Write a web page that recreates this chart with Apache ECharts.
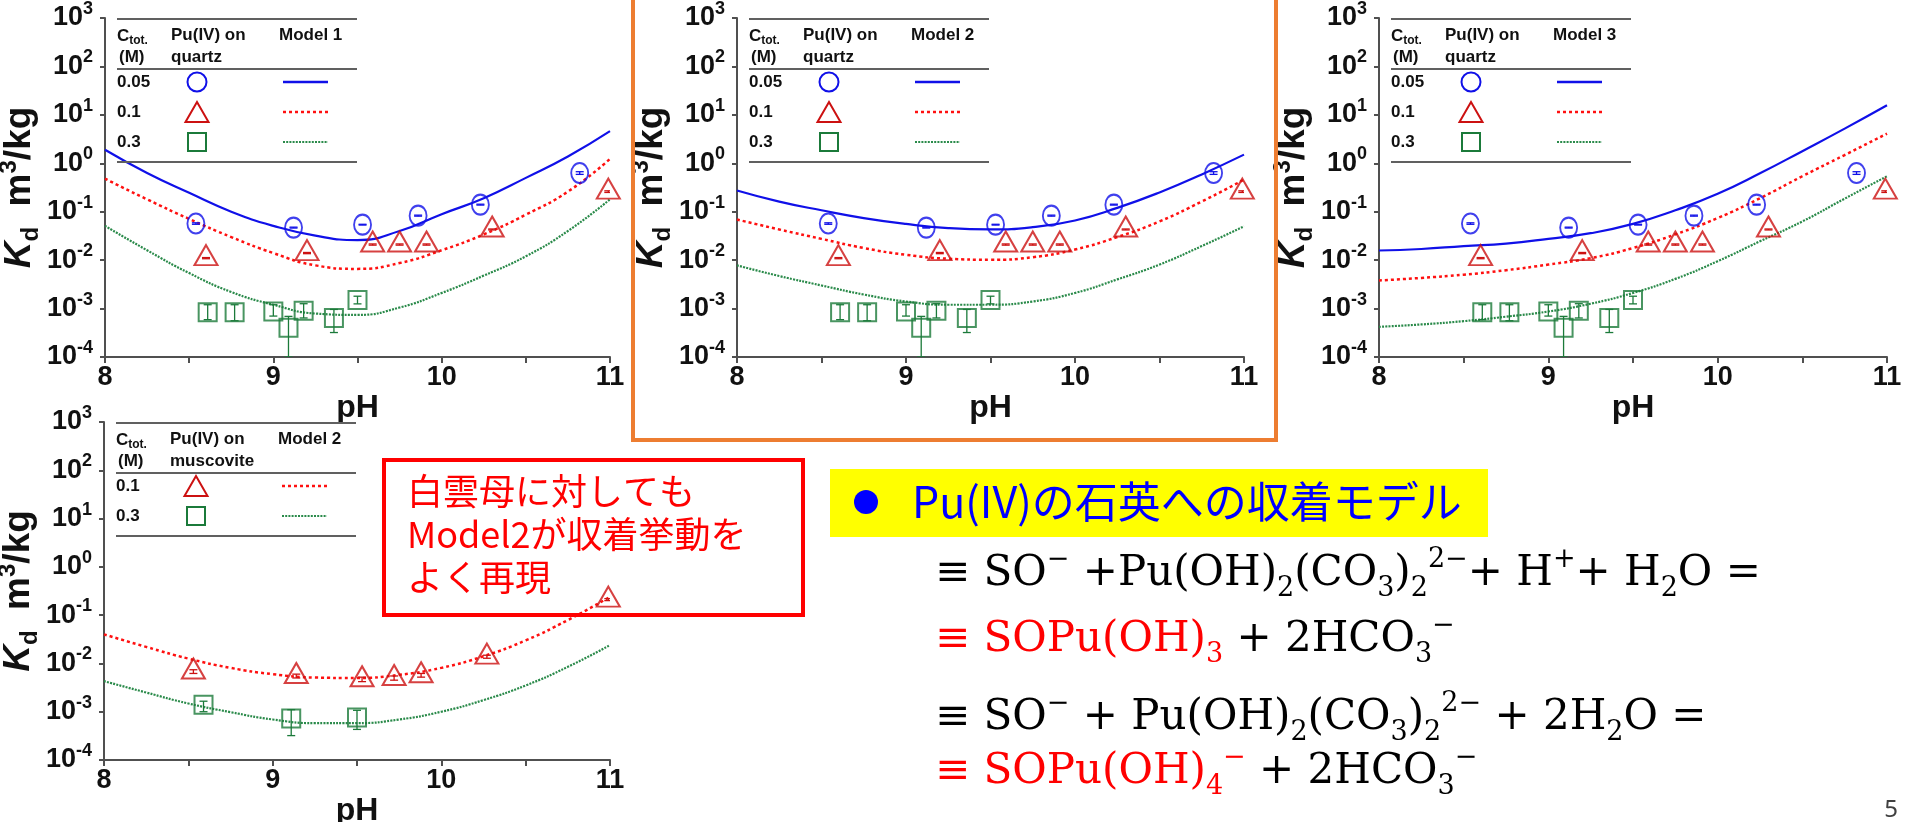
<!DOCTYPE html>
<html>
<head>
<meta charset="utf-8">
<script src="https://cdn.jsdelivr.net/npm/echarts@6.0.0/dist/echarts.min.js"></script>
<style>
  html, body { margin: 0; padding: 0; background: #fff; }
  #main { width: 1911px; height: 822px; }
</style>
</head>
<body>
<div id="main"></div>
<script>
// ---- data ----
var phModel = [8, 8.25, 8.5, 8.75, 9, 9.25, 9.5, 9.75, 10, 10.25, 10.5, 10.75, 11];
// model curves (Kd, m3/kg)
var m1Blue  = [1.9, 0.63, 0.245, 0.10, 0.051, 0.032, 0.026, 0.040, 0.089, 0.19, 0.50, 1.38, 4.6];
var m1Red   = [0.48, 0.18, 0.071, 0.030, 0.014, 0.0078, 0.0066, 0.0087, 0.016, 0.034, 0.087, 0.26, 1.23];
var m1Green = [0.051, 0.016, 0.0054, 0.0022, 0.0012, 7.9e-4, 7.4e-4, 1.05e-3, 2.1e-3, 4.8e-3, 0.012, 0.040, 0.18];
var m2Blue  = [0.275, 0.162, 0.107, 0.074, 0.056, 0.046, 0.043, 0.048, 0.066, 0.12, 0.25, 0.59, 1.51];
var m2Red   = [0.069, 0.043, 0.0275, 0.0178, 0.0129, 0.0107, 0.0102, 0.0115, 0.0166, 0.030, 0.063, 0.162, 0.46];
var m2Green = [0.0078, 0.0047, 0.0030, 0.00195, 0.0014, 0.0012, 0.0012, 0.0014, 0.0021, 0.0040, 0.0081, 0.0195, 0.050];
var m3Blue  = [0.0158, 0.017, 0.0195, 0.022, 0.0275, 0.036, 0.056, 0.107, 0.234, 0.62, 1.78, 5.2, 15.8];
var m3Red   = [0.0038, 0.0043, 0.0050, 0.0062, 0.0081, 0.011, 0.0178, 0.034, 0.074, 0.19, 0.54, 1.48, 4.1];
var m3Green = [4.2e-4, 4.7e-4, 5.5e-4, 6.8e-4, 8.7e-4, 1.26e-3, 2.1e-3, 4.1e-3, 9.5e-3, 0.0245, 0.063, 0.186, 0.54];
var muRed   = [0.040, 0.022, 0.0126, 0.0081, 0.0060, 0.0051, 0.0050, 0.0058, 0.0081, 0.0141, 0.030, 0.079, 0.24];
var muGreen = [0.0043, 0.0025, 0.00148, 9.8e-4, 6.9e-4, 5.8e-4, 5.8e-4, 6.9e-4, 1.0e-3, 1.74e-3, 3.5e-3, 8.5e-3, 0.024];

// Pu(IV) on quartz (same in the three upper plots)
var phQz05 = [8.54, 9.12, 9.53, 9.86, 10.23, 10.82];
var kdQz05 = [0.057, 0.047, 0.054, 0.083, 0.14, 0.63];
var loQz05 = [0.055, 0.046, 0.053, 0.081, 0.137, 0.59];
var hiQz05 = [0.059, 0.048, 0.055, 0.085, 0.143, 0.67];
var phQz10 = [8.60, 9.20, 9.59, 9.75, 9.91, 10.30, 10.99];
var kdQz10 = [0.011, 0.014, 0.021, 0.021, 0.021, 0.043, 0.26];
var loQz10 = [0.0107, 0.0136, 0.0204, 0.0204, 0.0204, 0.042, 0.25];
var hiQz10 = [0.0113, 0.0144, 0.0216, 0.0216, 0.0216, 0.044, 0.27];
var phQz30 = [8.61, 8.77, 9.00, 9.09, 9.18, 9.36, 9.50];
var kdQz30 = [8.4e-4, 8.4e-4, 8.7e-4, 4.0e-4, 9.0e-4, 6.4e-4, 1.5e-3];
var loQz30 = [5.9e-4, 5.6e-4, 7.0e-4, 1.0e-4, 6.4e-4, 3.2e-4, 1.25e-3];
var hiQz30 = [1.2e-3, 1.2e-3, 1.2e-3, 6.9e-4, 1.26e-3, 9.6e-4, 1.8e-3];

// Pu(IV) on muscovite
var phMu10 = [8.53, 9.14, 9.53, 9.72, 9.88, 10.27, 10.99];
var kdMu10 = [0.0068, 0.0055, 0.0047, 0.0050, 0.0057, 0.0138, 0.21];
var loMu10 = [0.0062, 0.0050, 0.0042, 0.0045, 0.0052, 0.0128, 0.20];
var hiMu10 = [0.0074, 0.0060, 0.0052, 0.0055, 0.0062, 0.0148, 0.22];
var phMu30 = [8.59, 9.11, 9.50];
var kdMu30 = [1.4e-3, 7.2e-4, 7.6e-4];
var loMu30 = [1.0e-3, 3.2e-4, 4.3e-4];
var hiMu30 = [1.65e-3, 1.1e-3, 1.07e-3];

var concQz = ['0.05', '0.1', '0.3'];
var concMu = ['0.1', '0.3'];

// ---- styles ----
var FONT = 'Liberation Sans';
var BLUE = '#1010E8', RED = '#FF1010', RED_SYM = '#CC1111', GREEN = '#1B7A3A', GREEN_L = '#2A8A4A';
var AXIS = '#505050';

var grids = [
  { left: 105, top: 18, width: 505, height: 339, outerBoundsMode: 'none' },
  { left: 737, top: 18, width: 507, height: 339, outerBoundsMode: 'none' },
  { left: 1379, top: 18, width: 508, height: 339, outerBoundsMode: 'none' },
  { left: 104, top: 422, width: 506, height: 338, outerBoundsMode: 'none' }
];

function pairs(xs, ys) { return xs.map(function (x, i) { return [x, ys[i]]; }); }
function triples(xs, lo, hi) { return xs.map(function (x, i) { return [x, lo[i], hi[i]]; }); }

function xAx(i) {
  return {
    gridIndex: i, type: 'value', min: 8, max: 11, interval: 0.5,
    name: 'pH', nameLocation: 'middle', nameGap: 17,
    nameTextStyle: { fontFamily: FONT, fontSize: 32, fontWeight: 'bold', color: '#111' },
    axisLine: { lineStyle: { color: AXIS, width: 2 } },
    axisTick: { length: 6, lineStyle: { color: AXIS, width: 2 } },
    axisLabel: {
      formatter: function (v) { return v % 1 === 0 ? String(v) : ''; },
      fontFamily: FONT, fontSize: 27, fontWeight: 'bold', color: '#111', margin: 7
    },
    splitLine: { show: false }
  };
}

function yAx(i) {
  return {
    gridIndex: i, type: 'log', logBase: 10, min: 1e-4, max: 1e3, splitNumber: 7,
    name: '{k|K}{d|d}{n|  m}{s|3}{n|/kg}', nameLocation: 'middle', nameGap: 56,
    nameTextStyle: {
      color: '#111',
      rich: {
        k: { fontFamily: FONT, fontSize: 37, fontWeight: 'bold', fontStyle: 'italic', lineHeight: 46 },
        d: { fontFamily: FONT, fontSize: 24, fontWeight: 'bold', lineHeight: 24, verticalAlign: 'bottom' },
        n: { fontFamily: FONT, fontSize: 37, fontWeight: 'bold', lineHeight: 46 },
        s: { fontFamily: FONT, fontSize: 24, fontWeight: 'bold', lineHeight: 28, verticalAlign: 'top' }
      }
    },
    axisLine: { show: true, lineStyle: { color: AXIS, width: 2 } },
    axisTick: { show: true, length: 5, lineStyle: { color: AXIS, width: 2 } },
    axisLabel: {
      margin: 12, color: '#111',
      formatter: function (v) { return '{b|10}{s|' + Math.round(Math.log10(v)) + '}'; },
      rich: {
        b: { fontFamily: FONT, fontSize: 27, fontWeight: 'bold', lineHeight: 36 },
        s: { fontFamily: FONT, fontSize: 18, fontWeight: 'bold', lineHeight: 20, verticalAlign: 'top' }
      }
    },
    splitLine: { show: false },
    minorTick: { show: false }
  };
}

function lineSeries(i, ys, color, dash, w) {
  return {
    type: 'line', xAxisIndex: i, yAxisIndex: i, data: pairs(phModel, ys),
    smooth: true, showSymbol: false, symbol: 'none', silent: true, z: 2,
    lineStyle: { color: color, width: w, type: dash }
  };
}

function markSeries(i, xs, ys, sym, size, color, offset) {
  return {
    type: 'scatter', xAxisIndex: i, yAxisIndex: i, data: pairs(xs, ys),
    symbol: sym, symbolSize: size, symbolOffset: offset || [0, 0], silent: true, z: 4,
    itemStyle: { color: 'rgba(255,255,255,0)', borderColor: color, borderWidth: 2 }
  };
}

function errSeries(i, xs, lo, hi, color, cap) {
  return {
    type: 'custom', xAxisIndex: i, yAxisIndex: i, data: triples(xs, lo, hi),
    encode: { x: 0, y: [1, 2] }, silent: true, z: 3, clip: true,
    renderItem: function (params, api) {
      var t = api.coord([api.value(0), api.value(2)]);
      var b = api.coord([api.value(0), api.value(1)]);
      var st = { stroke: color, lineWidth: 1.3 };
      return {
        type: 'group', children: [
          { type: 'line', shape: { x1: t[0], y1: t[1], x2: b[0], y2: b[1] }, style: st },
          { type: 'line', shape: { x1: t[0] - cap, y1: t[1], x2: t[0] + cap, y2: t[1] }, style: st },
          { type: 'line', shape: { x1: b[0] - cap, y1: b[1], x2: b[0] + cap, y2: b[1] }, style: st }
        ]
      };
    }
  };
}

var CIRCLE = ['circle', [17, 20]];
var TRI = ['triangle', [23, 20]];
var SQ = ['rect', [18, 18]];

var series = [];
[[m1Blue, m1Red, m1Green], [m2Blue, m2Red, m2Green], [m3Blue, m3Red, m3Green]].forEach(function (m, i) {
  series.push(lineSeries(i, m[0], BLUE, 'solid', 2.2));
  series.push(lineSeries(i, m[1], RED, [3, 3], 2.5));
  series.push(lineSeries(i, m[2], GREEN_L, [2, 1.2], 2.2));
  series.push(errSeries(i, phQz05, loQz05, hiQz05, BLUE, 4));
  series.push(errSeries(i, phQz10, loQz10, hiQz10, RED_SYM, 4));
  series.push(errSeries(i, phQz30, loQz30, hiQz30, GREEN, 4));
  series.push(markSeries(i, phQz05, kdQz05, CIRCLE[0], CIRCLE[1], BLUE));
  series.push(markSeries(i, phQz10, kdQz10, TRI[0], TRI[1], RED_SYM, [0, -3]));
  series.push(markSeries(i, phQz30, kdQz30, SQ[0], SQ[1], GREEN));
});
series.push(lineSeries(3, muRed, RED, [3, 3], 2.5));
series.push(lineSeries(3, muGreen, GREEN_L, [2, 1.2], 2.2));
series.push(errSeries(3, phMu10, loMu10, hiMu10, RED_SYM, 4));
series.push(errSeries(3, phMu30, loMu30, hiMu30, GREEN, 4));
series.push(markSeries(3, phMu10, kdMu10, TRI[0], TRI[1], RED_SYM, [0, -3]));
series.push(markSeries(3, phMu30, kdMu30, SQ[0], SQ[1], GREEN));

// ---- in-plot legend tables ----
function txt(x, y, text, size, extra) {
  var st = { text: text, fontFamily: FONT, fontSize: size, fontWeight: 'bold', fill: '#111', align: 'left', verticalAlign: 'middle' };
  for (var k in (extra || {})) st[k] = extra[k];
  return { type: 'text', x: x, y: y, z: 10, style: st };
}

function symEl(kind, x, y, color) {
  var st = { stroke: color, fill: 'none', lineWidth: 2 };
  if (kind === 'circle') return { type: 'circle', shape: { cx: x, cy: y, r: 9.5 }, style: st, z: 10 };
  if (kind === 'triangle') return { type: 'polygon', shape: { points: [[x, y - 10], [x - 11.5, y + 10], [x + 11.5, y + 10]] }, style: st, z: 10 };
  return { type: 'rect', shape: { x: x - 9, y: y - 9, width: 18, height: 18 }, style: st, z: 10 };
}

var rowStyles = {
  '0.05': { sym: 'circle', sc: BLUE, lc: BLUE, dash: null, w: 2.5 },
  '0.1': { sym: 'triangle', sc: RED_SYM, lc: RED, dash: [3, 3], w: 2.5 },
  '0.3': { sym: 'rect', sc: GREEN, lc: GREEN_L, dash: [2, 1.2], w: 2.2 }
};

function table(gl, gt, model, surface, concs) {
  var els = [];
  var lastY = gt + 64 + 30 * (concs.length - 1);
  [gt + 1, gt + 51, lastY + 20].forEach(function (y) {
    els.push({ type: 'line', z: 10, shape: { x1: gl + 12, y1: y, x2: gl + 252, y2: y }, style: { stroke: '#606060', lineWidth: 2 } });
  });
  els.push(txt(gl + 12, gt + 18, '{a|C}{b|tot.}', 17, {
    rich: {
      a: { fontFamily: FONT, fontSize: 17, fontWeight: 'bold', fill: '#111', lineHeight: 22 },
      b: { fontFamily: FONT, fontSize: 12, fontWeight: 'bold', fill: '#111', lineHeight: 12, verticalAlign: 'bottom' }
    }
  }));
  els.push(txt(gl + 14, gt + 39, '(M)', 17));
  els.push(txt(gl + 66, gt + 17, 'Pu(IV) on', 17));
  els.push(txt(gl + 66, gt + 39, surface, 17));
  els.push(txt(gl + 174, gt + 17, model, 17));
  concs.forEach(function (c, j) {
    var y = gt + 64 + 30 * j, r = rowStyles[c];
    els.push(txt(gl + 12, y, c, 17));
    els.push(symEl(r.sym, gl + 92, y, r.sc));
    els.push({ type: 'line', z: 10, shape: { x1: gl + 178, y1: y, x2: gl + 223, y2: y },
      style: { stroke: r.lc, lineWidth: r.w, lineDash: r.dash } });
  });
  return els;
}

var graphics = [];
graphics = graphics.concat(table(105, 18, 'Model 1', 'quartz', concQz));
graphics = graphics.concat(table(737, 18, 'Model 2', 'quartz', concQz));
graphics = graphics.concat(table(1379, 18, 'Model 3', 'quartz', concQz));
graphics = graphics.concat(table(104, 422, 'Model 2', 'muscovite', concMu));

// highlight frame around the Model 2 plot
graphics.push({ type: 'rect', z: 20, shape: { x: 633, y: -3, width: 643, height: 443 }, style: { stroke: '#ED7D31', fill: 'none', lineWidth: 4 } });

// red comment box
var JP = 'Noto Sans CJK JP';
graphics.push({ type: 'rect', z: 20, shape: { x: 384, y: 460, width: 419, height: 155 }, style: { stroke: '#FF0000', fill: 'none', lineWidth: 4 } });
['白雲母に対しても', 'Model2が収着挙動を', 'よく再現'].forEach(function (s, j) {
  graphics.push({ type: 'text', z: 21, x: 407, y: 491 + 43 * j,
    style: { text: s, fontFamily: JP, fontSize: 36, fill: '#FF0000', align: 'left', verticalAlign: 'middle' } });
});

// yellow heading
graphics.push({ type: 'rect', z: 5, shape: { x: 830, y: 469, width: 658, height: 68 }, style: { fill: '#FFFF00' } });
graphics.push({ type: 'circle', z: 6, shape: { cx: 866, cy: 502, r: 12 }, style: { fill: '#0000FF' } });
graphics.push({ type: 'text', z: 6, x: 912, y: 502,
  style: { text: 'Pu(IV)の石英への収着モデル', fontFamily: JP, fontSize: 43, fill: '#0000FF', align: 'left', verticalAlign: 'middle' } });

// reaction equations
var SERIF = 'DejaVu Serif';
var eqRich = {
  n: { fontFamily: SERIF, fontSize: 42, lineHeight: 56, fill: '#000' },
  r: { fontFamily: SERIF, fontSize: 42, lineHeight: 56, fill: '#FF0000' },
  b: { fontFamily: SERIF, fontSize: 27, lineHeight: 27, verticalAlign: 'bottom', fill: '#000' },
  rb: { fontFamily: SERIF, fontSize: 27, lineHeight: 27, verticalAlign: 'bottom', fill: '#FF0000' },
  t: { fontFamily: SERIF, fontSize: 27, lineHeight: 33, verticalAlign: 'top', fill: '#000' },
  rt: { fontFamily: SERIF, fontSize: 27, lineHeight: 33, verticalAlign: 'top', fill: '#FF0000' }
};
var eqLines = [
  '{n|≡ SO}{t|−}{n| +Pu(OH)}{b|2}{n|(CO}{b|3}{n|)}{b|2}{t|2−}{n|+ H}{t|+}{n|+ H}{b|2}{n|O =}',
  '{r|≡ SOPu(OH)}{rb|3}{n| + 2HCO}{b|3}{t|−}',
  '{n|≡ SO}{t|−}{n| + Pu(OH)}{b|2}{n|(CO}{b|3}{n|)}{b|2}{t|2−}{n| + 2H}{b|2}{n|O =}',
  '{r|≡ SOPu(OH)}{rb|4}{rt|−}{n| + 2HCO}{b|3}{t|−}'
];
var eqY = [574, 640, 718, 772];
eqLines.forEach(function (s, j) {
  graphics.push({ type: 'text', z: 6, x: 935, y: eqY[j],
    style: { text: s, rich: eqRich, align: 'left', verticalAlign: 'middle' } });
});

// slide number
graphics.push({ type: 'text', z: 6, x: 1898, y: 810,
  style: { text: '5', fontFamily: 'Noto Sans', fontSize: 24, fill: '#404040', align: 'right', verticalAlign: 'middle' } });

var myChart = echarts.init(document.getElementById('main'));
var option = {
  backgroundColor: '#fff',
  animation: false,
  grid: grids,
  xAxis: [xAx(0), xAx(1), xAx(2), xAx(3)],
  yAxis: [yAx(0), yAx(1), yAx(2), yAx(3)],
  series: series,
  graphic: graphics
};
myChart.setOption(option);
</script>
</body>
</html>
